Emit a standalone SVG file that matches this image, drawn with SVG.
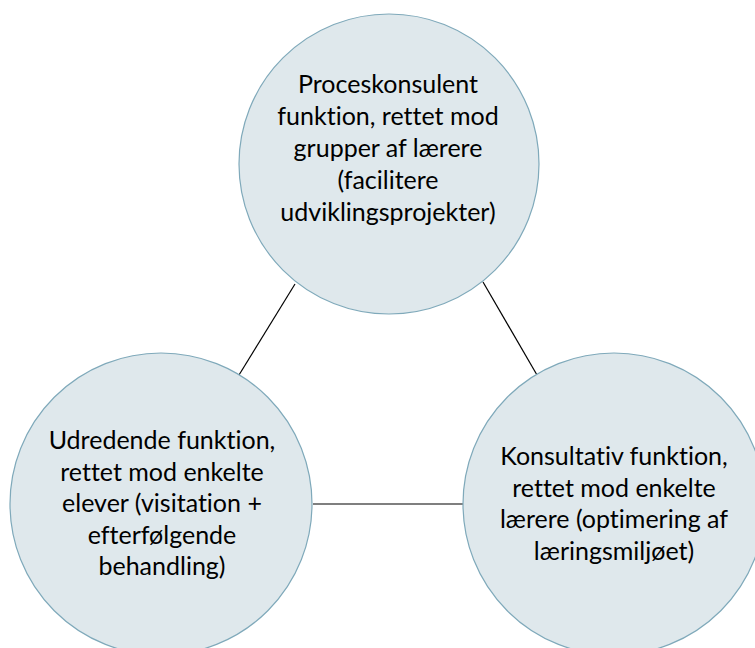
<svg xmlns="http://www.w3.org/2000/svg" width="755" height="648" viewBox="0 0 755 648">
<style>
.node{fill:#dfe8ec;stroke:#7fa9ba;stroke-width:1.2}
.lbl{font-family:Lato,"Open Sans","Liberation Sans",sans-serif;font-size:25px;fill:#000;text-anchor:middle;font-variant-ligatures:none;font-feature-settings:"liga" 0}
.edge{stroke:#000;stroke-width:1.2;fill:none}
</style>
<rect width="755" height="648" fill="#fff"/>
<g id="connectors">
<line class="edge" x1="295" y1="284" x2="239" y2="375"/>
<line class="edge" x1="483" y1="282" x2="537" y2="375"/>
<line class="edge" x1="313" y1="504" x2="463" y2="504"/>
</g>
<g id="node-top">
<circle class="node" cx="389" cy="164" r="150"/>
<text class="lbl" x="388" y="93">Proceskonsulent</text>
<text class="lbl" x="388" y="125">funktion, rettet mod</text>
<text class="lbl" x="388" y="157">grupper af lærere</text>
<text class="lbl" x="388" y="189">(facilitere</text>
<text class="lbl" x="388" y="221">udviklingsprojekter)</text>
</g>
<g id="node-left">
<circle class="node" cx="161" cy="504" r="151"/>
<text class="lbl" x="162" y="449">Udredende funktion,</text>
<text class="lbl" x="162" y="481">rettet mod enkelte</text>
<text class="lbl" x="162" y="512">elever (visitation +</text>
<text class="lbl" x="162" y="544">efterfølgende</text>
<text class="lbl" x="162" y="575">behandling)</text>
</g>
<g id="node-right">
<circle class="node" cx="614" cy="504" r="151"/>
<text class="lbl" x="614" y="465">Konsultativ funktion,</text>
<text class="lbl" x="614" y="497">rettet mod enkelte</text>
<text class="lbl" x="614" y="528">lærere (optimering af</text>
<text class="lbl" x="614" y="560">læringsmiljøet)</text>
</g>
</svg>
